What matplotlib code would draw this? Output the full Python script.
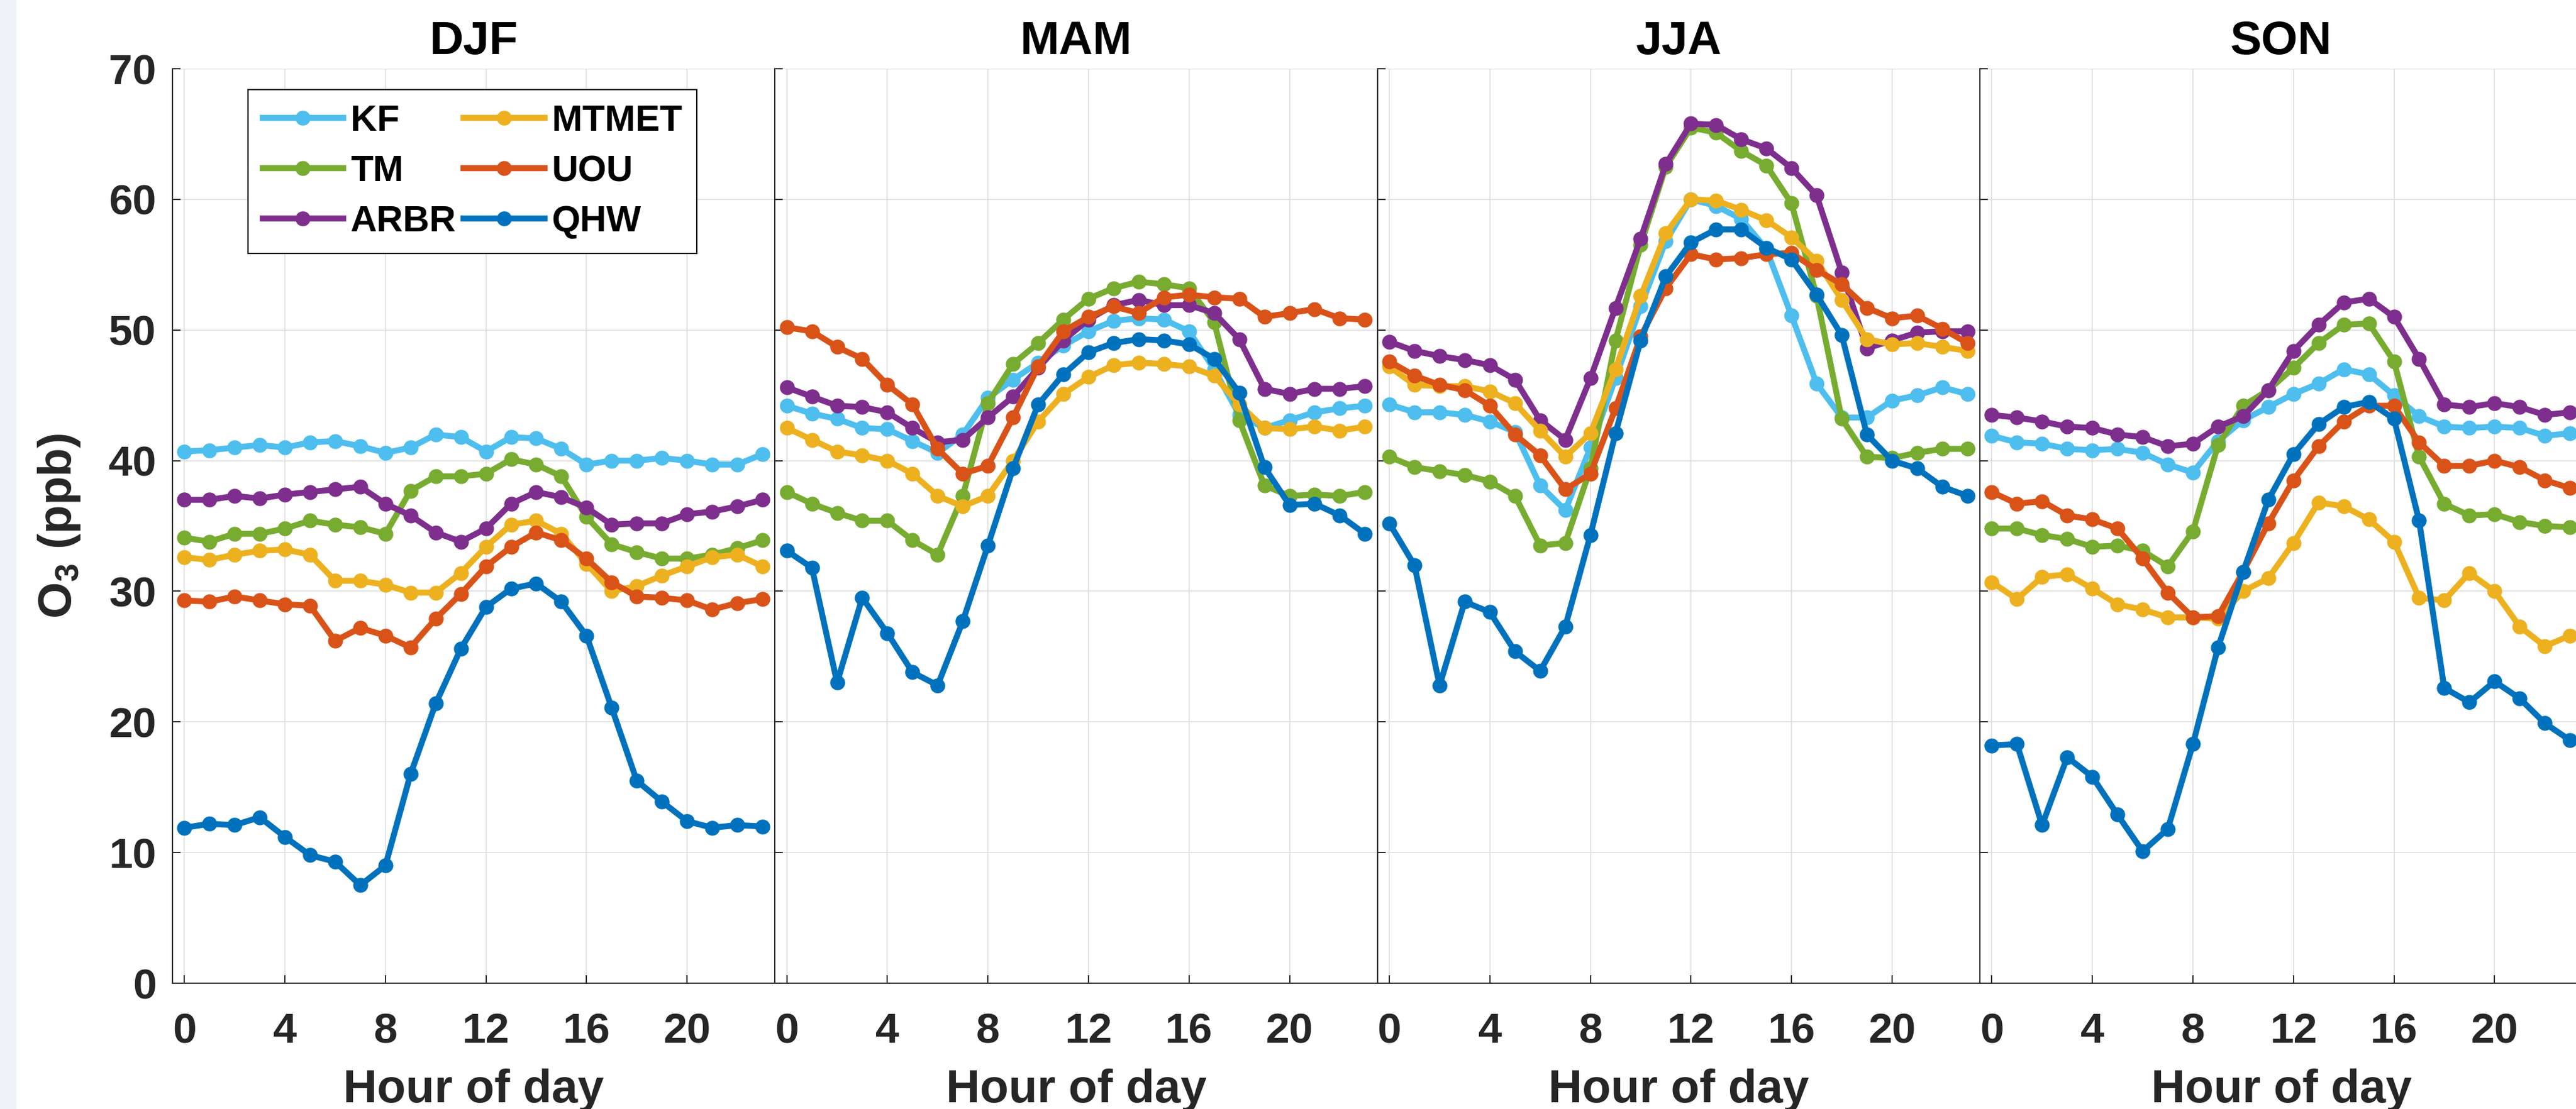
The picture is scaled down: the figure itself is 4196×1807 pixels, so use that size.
import numpy as np
import matplotlib
matplotlib.use("Agg")
import matplotlib.pyplot as plt
from matplotlib.patches import Rectangle

plt.rcParams["font.family"] = ["Liberation Sans", "DejaVu Sans"]
plt.rcParams["font.weight"] = "bold"
plt.rcParams["mathtext.fontset"] = "custom"
plt.rcParams["mathtext.rm"] = "Liberation Sans:bold"
plt.rcParams["mathtext.it"] = "Liberation Sans:bold"
plt.rcParams["mathtext.bf"] = "Liberation Sans:bold"
plt.rcParams["mathtext.default"] = "rm"

hours = np.arange(24)
seasons = ["DJF", "MAM", "JJA", "SON"]
sites = ["KF", "TM", "ARBR", "MTMET", "UOU", "QHW"]
site_colors = ["#4DBEEE", "#77AC30", "#7E2F8E", "#EDB120", "#D95319", "#0072BD"]

# hourly mean O3 (ppb)
djf = {
    "KF":    [40.7, 40.8, 41.0, 41.2, 41.0, 41.4, 41.5, 41.1, 40.6, 41.0, 42.0, 41.8, 40.7, 41.8, 41.7, 40.9, 39.7, 40.0, 40.0, 40.2, 40.0, 39.7, 39.7, 40.5],
    "TM":    [34.1, 33.8, 34.4, 34.4, 34.8, 35.4, 35.1, 34.9, 34.4, 37.7, 38.8, 38.8, 39.0, 40.1, 39.7, 38.8, 35.7, 33.6, 33.0, 32.5, 32.5, 32.8, 33.3, 33.9],
    "ARBR":  [37.0, 37.0, 37.3, 37.1, 37.4, 37.6, 37.8, 38.0, 36.7, 35.8, 34.5, 33.8, 34.8, 36.7, 37.6, 37.2, 36.4, 35.1, 35.2, 35.2, 35.9, 36.1, 36.5, 37.0],
    "MTMET": [32.6, 32.4, 32.8, 33.1, 33.2, 32.8, 30.8, 30.8, 30.5, 29.9, 29.9, 31.4, 33.4, 35.1, 35.4, 34.4, 32.1, 30.0, 30.4, 31.2, 31.9, 32.6, 32.8, 31.9],
    "UOU":   [29.3, 29.2, 29.6, 29.3, 29.0, 28.9, 26.2, 27.2, 26.6, 25.7, 27.9, 29.8, 31.9, 33.4, 34.5, 33.9, 32.5, 30.7, 29.6, 29.5, 29.3, 28.6, 29.1, 29.4],
    "QHW":   [11.9, 12.2, 12.1, 12.7, 11.2, 9.8, 9.3, 7.5, 9.0, 16.0, 21.4, 25.6, 28.8, 30.2, 30.6, 29.2, 26.6, 21.1, 15.5, 13.9, 12.4, 11.9, 12.1, 12.0],
}
mam = {
    "KF":    [44.2, 43.6, 43.2, 42.5, 42.4, 41.5, 40.6, 42.0, 44.8, 46.2, 47.5, 48.8, 49.9, 50.7, 50.9, 50.8, 49.9, 47.0, 43.5, 42.5, 43.1, 43.7, 44.0, 44.2],
    "TM":    [37.6, 36.7, 36.0, 35.4, 35.4, 33.9, 32.8, 37.3, 44.4, 47.4, 49.0, 50.8, 52.4, 53.2, 53.7, 53.5, 53.2, 50.6, 43.1, 38.1, 37.3, 37.4, 37.3, 37.6],
    "ARBR":  [45.6, 44.9, 44.2, 44.1, 43.7, 42.5, 41.4, 41.6, 43.3, 44.9, 47.1, 49.2, 50.8, 51.9, 52.3, 51.9, 51.9, 51.3, 49.3, 45.5, 45.1, 45.5, 45.5, 45.7],
    "MTMET": [42.5, 41.6, 40.7, 40.4, 40.0, 39.0, 37.3, 36.5, 37.3, 40.0, 43.0, 45.1, 46.4, 47.3, 47.5, 47.4, 47.2, 46.5, 44.3, 42.5, 42.4, 42.6, 42.3, 42.6],
    "UOU":   [50.2, 49.9, 48.7, 47.8, 45.8, 44.3, 40.9, 39.0, 39.6, 43.3, 47.2, 49.9, 51.0, 51.8, 51.3, 52.5, 52.7, 52.5, 52.4, 51.0, 51.3, 51.6, 50.9, 50.8],
    "QHW":   [33.1, 31.8, 23.0, 29.5, 26.8, 23.8, 22.8, 27.7, 33.5, 39.4, 44.3, 46.6, 48.3, 49.0, 49.3, 49.2, 48.9, 47.8, 45.2, 39.5, 36.6, 36.7, 35.8, 34.4],
}
jja = {
    "KF":    [44.3, 43.7, 43.7, 43.5, 43.0, 42.2, 38.1, 36.2, 41.0, 46.3, 51.8, 56.8, 60.0, 59.5, 58.5, 56.2, 51.1, 45.9, 43.3, 43.3, 44.6, 45.0, 45.6, 45.1],
    "TM":    [40.3, 39.5, 39.2, 38.9, 38.4, 37.3, 33.5, 33.7, 39.4, 49.2, 56.5, 62.5, 65.5, 65.1, 63.7, 62.6, 59.7, 52.6, 43.2, 40.3, 40.2, 40.6, 40.9, 40.9],
    "ARBR":  [49.1, 48.4, 48.0, 47.7, 47.3, 46.2, 43.1, 41.6, 46.3, 51.7, 57.0, 62.7, 65.8, 65.7, 64.6, 63.9, 62.4, 60.3, 54.4, 48.6, 49.2, 49.8, 49.9, 49.9],
    "MTMET": [47.2, 45.8, 45.7, 45.7, 45.3, 44.4, 42.3, 40.3, 42.1, 47.0, 52.6, 57.4, 60.0, 59.9, 59.2, 58.4, 57.1, 55.3, 52.3, 49.3, 48.9, 49.0, 48.7, 48.4],
    "UOU":   [47.6, 46.5, 45.8, 45.4, 44.2, 42.0, 40.4, 37.8, 39.0, 44.0, 49.5, 53.2, 55.8, 55.4, 55.5, 55.8, 55.9, 54.6, 53.5, 51.7, 50.9, 51.1, 50.1, 49.0],
    "QHW":   [35.2, 32.0, 22.8, 29.2, 28.4, 25.4, 23.9, 27.3, 34.3, 42.1, 49.2, 54.1, 56.7, 57.7, 57.7, 56.3, 55.4, 52.7, 49.6, 42.0, 40.0, 39.4, 38.0, 37.3],
}
son = {
    "KF":    [41.9, 41.4, 41.3, 40.9, 40.8, 40.9, 40.6, 39.7, 39.1, 41.5, 43.1, 44.1, 45.1, 45.9, 47.0, 46.6, 45.0, 43.4, 42.6, 42.5, 42.6, 42.5, 41.9, 42.1],
    "TM":    [34.8, 34.8, 34.3, 34.0, 33.4, 33.5, 33.1, 31.9, 34.6, 41.2, 44.2, 45.4, 47.1, 49.0, 50.4, 50.5, 47.6, 40.3, 36.7, 35.8, 35.9, 35.3, 35.0, 34.9],
    "ARBR":  [43.5, 43.3, 43.0, 42.6, 42.5, 42.0, 41.8, 41.1, 41.3, 42.6, 43.4, 45.4, 48.4, 50.4, 52.1, 52.4, 51.0, 47.8, 44.3, 44.1, 44.4, 44.1, 43.5, 43.7],
    "MTMET": [30.7, 29.4, 31.1, 31.3, 30.2, 29.0, 28.6, 28.0, 28.0, 27.9, 30.0, 31.0, 33.7, 36.8, 36.5, 35.5, 33.8, 29.5, 29.3, 31.4, 30.0, 27.3, 25.8, 26.6],
    "UOU":   [37.6, 36.7, 36.9, 35.8, 35.5, 34.8, 32.5, 29.9, 28.0, 28.1, 31.5, 35.2, 38.5, 41.1, 43.0, 44.2, 44.2, 41.4, 39.6, 39.6, 40.0, 39.5, 38.5, 37.9],
    "QHW":   [18.2, 18.3, 12.1, 17.3, 15.8, 12.9, 10.1, 11.8, 18.3, 25.7, 31.5, 37.0, 40.5, 42.8, 44.1, 44.5, 43.2, 35.4, 22.6, 21.5, 23.1, 21.8, 19.9, 18.6],
}
season_data = [djf, mam, jja, son]

W, H = 4196, 1807
fig = plt.figure(figsize=(W / 100, H / 100), dpi=100)
fig.patches.append(Rectangle((0, 0), 27 / W, 1, transform=fig.transFigure,
                             facecolor="#EFF3F8", edgecolor="none", zorder=-5))

ax_w = 981.4 / W
left0 = 281 / W
bottom = 205 / H
height = 1490 / H
dark = "#262626"

for i, (name, data) in enumerate(zip(seasons, season_data)):
    ax = fig.add_axes([left0 + i * ax_w, bottom, ax_w, height])
    for site, col in zip(sites, site_colors):
        ax.plot(hours, data[site], "-o", color=col, lw=7, ms=16.5, label=site)

    ax.set_xlim(-0.47, 23.5)
    ax.set_ylim(0, 70)
    ax.set_xticks(np.arange(0, 24, 4))
    ax.set_yticks(np.arange(0, 71, 10))
    ax.grid(True, color="#dcdcdc", lw=1.1)
    ax.set_axisbelow(True)
    for s in ["top", "right"]:
        ax.spines[s].set_visible(False)
    for s in ["left", "bottom"]:
        ax.spines[s].set_color(dark)
        ax.spines[s].set_linewidth(1.4)
    ax.tick_params(direction="in", length=9.4, width=1.4, colors=dark,
                   labelsize=50)
    ax.tick_params(axis="x", pad=34)
    ax.tick_params(axis="y", pad=19)
    if i > 0:
        ax.tick_params(labelleft=False)
    else:
        ax.set_ylabel(r"O$_3$ (ppb)", fontsize=55, fontweight="bold",
                      color=dark, labelpad=31)
        leg = ax.legend(ncol=2, loc="upper left", bbox_to_anchor=(0.125, 0.977),
                        prop={"size": 43, "weight": "bold"}, frameon=True,
                        fancybox=False, edgecolor="black", framealpha=1,
                        handlelength=2.2, handletextpad=0.2, columnspacing=0.2,
                        labelspacing=0.45, borderpad=0.4, borderaxespad=0)
        leg.get_frame().set_linewidth(1.5)
    ax.set_title(name, fontsize=55, fontweight="bold", pad=17, color="black")
    ax.set_xlabel("Hour of day", fontsize=55, fontweight="bold", color=dark,
                  labelpad=20)

fig.savefig("out.png", dpi=100)
